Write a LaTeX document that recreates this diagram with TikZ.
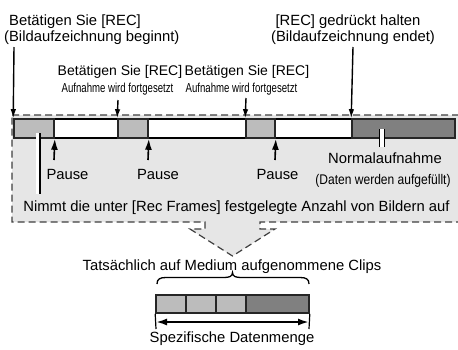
\documentclass[tikz,border=0pt]{standalone}
\usepackage{fontspec}
\setmainfont{Liberation Sans}
\newfontfamily\condA[FakeStretch=0.74]{Liberation Sans}
\newfontfamily\condB[FakeStretch=0.86]{Liberation Sans}
\usetikzlibrary{arrows.meta}
\definecolor{regiongray}{RGB}{230,230,230}
\definecolor{seglight}{RGB}{188,188,188}
\definecolor{segdark}{RGB}{128,128,128}
\tikzset{
  txt/.style={inner sep=0pt,anchor=base,font=\fontsize{14.8}{17}\selectfont},
  txtw/.style={txt,anchor=base west},
  txtm/.style={inner sep=0pt,anchor=base,font=\fontsize{14}{16}\selectfont},
  cnd/.style={inner sep=0pt,anchor=base,font=\condA\fontsize{13}{15}\selectfont},
  cndb/.style={inner sep=0pt,anchor=base,font=\condB\fontsize{14}{16}\selectfont},
  region/.style={fill=regiongray,draw=black!75,line width=1.2pt,dash pattern=on 7pt off 4pt},
  seg/.style={draw=black!85,line width=1.6pt},
  lseg/.style={seg,fill=seglight},
  dseg/.style={seg,fill=segdark},
  marker/.style={draw=black,line width=1.4pt,-{Latex[length=9pt,width=5.5pt]}},
  umarker/.style={draw=black,line width=1.6pt,-{Latex[length=11pt,width=7pt]}},
}
\begin{document}
\begin{tikzpicture}[x=1pt,y=-1pt]
\useasboundingbox (0,0) rectangle (458,349);
\clip (0,0) rectangle (458,349);
\fill[white] (0,0) rectangle (458,349);
% region with arrow
\path[region] (12,115) -- (470,115) -- (470,222) -- (260,222) -- (260,229) -- (275,229)
  -- (232.5,256) -- (190,229) -- (205,229) -- (205,222) -- (12,222) -- cycle;
% bar
\fill[white] (14,119) rectangle (455,138);
\draw[line width=1.1pt] (14,119) -- (455,119) (14,138) -- (455,138);
\node[lseg,minimum width=40pt,minimum height=19pt,inner sep=0pt] (s1) at (34,128.5) {};
\node[lseg,minimum width=30pt,minimum height=19pt,inner sep=0pt] (s2) at (133,128.5) {};
\node[lseg,minimum width=29pt,minimum height=19pt,inner sep=0pt] (s3) at (260.5,128.5) {};
\node[dseg,minimum width=103pt,minimum height=19pt,inner sep=0pt] (s4) at (403.5,128.5) {};
% top labels
\node[txtw] (t1a) at (9,25) {Betätigen Sie [REC]};
\node[txtw] (t1b) at (4,41) {(Bildaufzeichnung beginnt)};
\node[txt] (t4a) at (348,25) {[REC] gedrückt halten};
\node[txt] (t4b) at (353,41) {(Bildaufzeichnung endet)};
\node[txtm] (m1a) at (120,75.7) {Betätigen Sie [REC]};
\node[cnd] (m1b) at (117.5,92.7) {Aufnahme wird fortgesetzt};
\node[txtm] (m2a) at (247,75.7) {Betätigen Sie [REC]};
\node[cnd] (m2b) at (241.5,92.7) {Aufnahme wird fortgesetzt};
% down arrows
\coordinate (a1) at (14,47);
\coordinate (a2) at (118,100);
\coordinate (a3) at (246,98);
\coordinate (a4) at (353,47);
\draw[marker] (a1) -- (s1.north west);
\draw[marker] (a2) -- (s2.north west);
\draw[marker] (a3) -- (s3.north west);
\draw[marker] (a4) -- (s4.north west);
% pause labels
\node[txt] (p1) at (67.5,179) {Pause};
\node[txt] (p2) at (158,179) {Pause};
\node[txt] (p3) at (277.5,179) {Pause};
\coordinate (u1) at (54,160);
\coordinate (u2) at (148,160);
\coordinate (u3) at (275,160);
\draw[umarker] (u1) -- (s1.south east);
\draw[umarker] (u2) -- (s2.south east);
\draw[umarker] (u3) -- (s3.south east);
% leader lines
\node[txt] (nimmt) at (236.5,211) {Nimmt die unter [Rec Frames] festgelegte Anzahl von Bildern auf};
\coordinate (l1) at (40,133);
\coordinate (l1e) at (40,194);
\draw[white,line width=2.4pt] ([xshift=-2.5pt]l1) -- ([xshift=-2.5pt]l1e);
\draw[black,line width=1.2pt] (l1) -- (l1e);
\node[txt] (norm) at (385,163) {Normalaufnahme};
\node[cndb] (daten) at (383,184) {(Daten werden aufgefüllt)};
\coordinate (l2) at (382,129);
\coordinate (l2e) at (382,147);
\draw[black,line width=6.5pt] (l2) -- (l2e);
\draw[white,line width=3.6pt] (l2) -- (l2e);
% bottom
\node[txt] (tats) at (232,270) {Tatsächlich auf Medium aufgenommene Clips};
\draw[line width=1.3pt] (157,284) .. controls (157,279) and (160,277.5) .. (166,277.5)
  -- (224,277.5) .. controls (229,277.5) and (232.5,276.5) .. (232.5,272.5)
  .. controls (232.5,276.5) and (236,277.5) .. (241,277.5)
  -- (300,277.5) .. controls (306,277.5) and (309,279) .. (309,284);
\node[lseg,minimum width=30pt,minimum height=18pt,inner sep=0pt] (b1) at (171,304) {};
\node[lseg,minimum width=30pt,minimum height=18pt,inner sep=0pt] (b2) at (201,304) {};
\node[lseg,minimum width=30pt,minimum height=18pt,inner sep=0pt] (b3) at (231,304) {};
\node[dseg,minimum width=63pt,minimum height=18pt,inner sep=0pt] (b4) at (277.5,304) {};
\coordinate (k1) at (156,329);
\coordinate (k2) at (309,329);
\coordinate (d1) at (156,322);
\coordinate (d2) at (309,322);
\draw[line width=1.2pt] (b1.south west) -- (k1);
\draw[line width=1.2pt] (b4.south east) -- (k2);
\draw[line width=2pt,{Latex[length=11pt,width=7pt]}-{Latex[length=11pt,width=7pt]}] (d1) -- (d2);
\node[txt] (spez) at (232,342) {Spezifische Datenmenge};
\end{tikzpicture}
\end{document}
